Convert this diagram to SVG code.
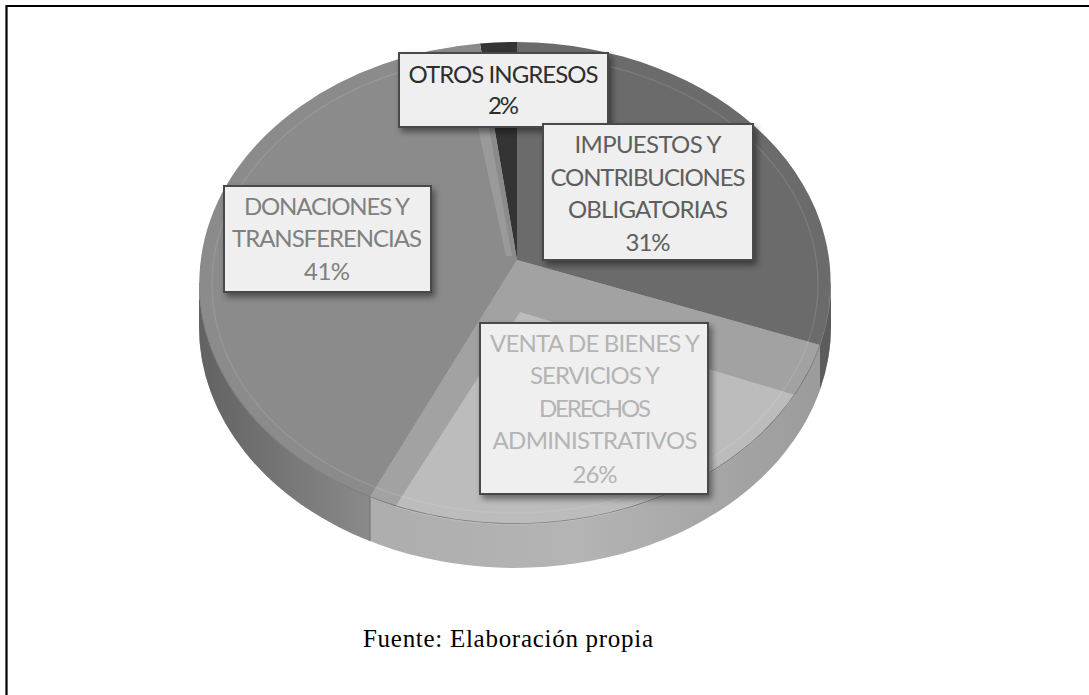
<svg xmlns="http://www.w3.org/2000/svg" width="1089" height="695" viewBox="0 0 1089 695">
<style>
.lbl{font-family:Lato,"Open Sans","Liberation Sans",sans-serif;font-size:24px;text-anchor:middle}
.box{fill:#efefef;stroke:#4a4a4a;stroke-width:2;filter:url(#sh)}
.src{font-family:"Liberation Serif","Times New Roman",serif;font-size:25px;fill:#000}
</style>
<defs>
<filter id="sh" x="-20%" y="-20%" width="140%" height="150%">
<feDropShadow dx="3" dy="4" stdDeviation="3" flood-color="#000" flood-opacity="0.45"/>
</filter>
<linearGradient id="gDon" x1="0" y1="0" x2="1" y2="0">
<stop offset="0" stop-color="#626262"/>
<stop offset="1" stop-color="#8a8a8a"/>
</linearGradient>
<linearGradient id="gVen" x1="0" y1="0" x2="1" y2="0">
<stop offset="0" stop-color="#a8a8a8"/>
<stop offset="0.6" stop-color="#b4b4b4"/>
<stop offset="1" stop-color="#9a9a9a"/>
</linearGradient>
<clipPath id="topClip"><ellipse cx="515" cy="283" rx="316" ry="241"/></clipPath>
</defs>
<rect width="1089" height="695" fill="#fff"/>
<path d="M5.5,6 H1089 M6.5,5 V695" stroke="#000" stroke-width="2.2" fill="none"/>

<g id="pie-sides">
<ellipse cx="515" cy="327" rx="316" ry="241" fill="url(#gVen)"/>
<path d="M370,497 A316,241 0 0 1 199,283 L199,327 A316,241 0 0 0 370,541 Z" fill="url(#gDon)"/>
<path d="M820,345 A316,241 0 0 0 831,283 L831,327 A316,241 0 0 1 820,389 Z" fill="#5c5c5c"/>
<path d="M370,497 L370,541" stroke="#6e6e6e" stroke-width="1"/>
</g>

<g id="slice-otros">
<path d="M517,260 L517,42 A316,241 0 0 0 480,43.5 Z" fill="#343434"/>
</g>
<g id="slice-impuestos">
<path d="M517,260 L517,42 A316,241 0 0 1 820,345 Z" fill="#6b6b6b"/>
</g>
<g id="slice-donaciones">
<path d="M517,260 L480,43.5 A316,241 0 0 0 370,497 Z" fill="#8b8b8b"/>
<path d="M478,128 L489,128 L512,256 L506,256 Z" fill="#9a9a9a"/>
</g>
<g id="slice-venta">
<path d="M517,260 L370,497 A316,241 0 0 0 820,345 Z" fill="#a2a2a2"/>
<path d="M520,312 L395,507 A316,241 0 0 0 795,395 Z" fill="#bcbcbc"/>
</g>
<g id="pie-rim" clip-path="url(#topClip)">
<ellipse cx="515" cy="284" rx="303" ry="229" fill="none" stroke="#ffffff" stroke-opacity="0.1" stroke-width="1.5"/>
<path d="M199,283 A316,241 0 0 0 831,283" fill="none" stroke="#7a7a7a" stroke-width="1.5"/>
</g>

<g id="label-otros">
<rect class="box" x="399" y="53" width="209" height="74"/>
<text class="lbl" fill="#2e2e2e"><tspan x="503.5" y="83" textLength="190">OTROS INGRESOS</tspan><tspan x="503.5" y="114" textLength="31">2%</tspan></text>
</g>
<g id="label-impuestos">
<rect class="box" x="543" y="124" width="210" height="136"/>
<text class="lbl" fill="#5e5e5e"><tspan x="648" y="153" textLength="147">IMPUESTOS Y</tspan><tspan x="648" y="186" textLength="195">CONTRIBUCIONES</tspan><tspan x="648" y="218" textLength="160">OBLIGATORIAS</tspan><tspan x="648" y="251" textLength="45">31%</tspan></text>
</g>
<g id="label-donaciones">
<rect class="box" x="224" y="186" width="207" height="106"/>
<text class="lbl" fill="#808080"><tspan x="327" y="215" textLength="166">DONACIONES Y</tspan><tspan x="327" y="247" textLength="190">TRANSFERENCIAS</tspan><tspan x="327" y="280" textLength="46">41%</tspan></text>
</g>
<g id="label-venta">
<rect class="box" x="480" y="323" width="228" height="171"/>
<text class="lbl" fill="#b4b4b4"><tspan x="595" y="352" textLength="210">VENTA DE BIENES Y</tspan><tspan x="595" y="384" textLength="130">SERVICIOS Y</tspan><tspan x="595" y="417" textLength="112">DERECHOS</tspan><tspan x="595" y="449" textLength="205">ADMINISTRATIVOS</tspan><tspan x="595" y="483" textLength="45">26%</tspan></text>
</g>

<g id="source">
<text class="src" x="363" y="647" textLength="290">Fuente: Elaboración propia</text>
</g>
</svg>
